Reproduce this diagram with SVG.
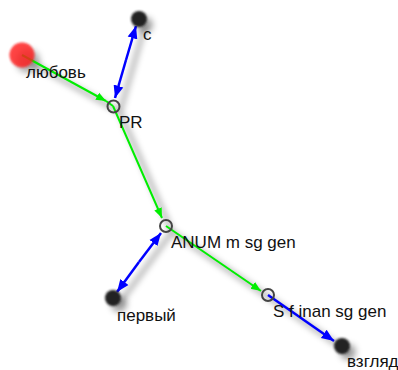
<svg xmlns="http://www.w3.org/2000/svg" width="398" height="370" viewBox="0 0 398 370">
<defs>
<filter id="sh" x="-50%" y="-50%" width="200%" height="200%"><feGaussianBlur stdDeviation="3"/></filter>
<filter id="soft" x="-30%" y="-30%" width="160%" height="160%"><feGaussianBlur stdDeviation="0.8"/></filter>
<marker id="ag" viewBox="0 0 10 10" refX="10" refY="5" markerWidth="5" markerHeight="5" orient="auto"><path d="M0,1 L10,5 L0,9 z" fill="#00ee00"/></marker>
<marker id="ab" viewBox="0 0 10 10" refX="10" refY="5" markerWidth="5" markerHeight="5" orient="auto"><path d="M0,1 L10,5 L0,9 z" fill="#0000ff"/></marker>
</defs>
<style>
.lbl{font-family:"Liberation Sans",Arial,sans-serif;font-size:17px;fill:#111}
.g{stroke:#00ee00;stroke-width:2;fill:none}
.b{stroke:#0000ff;stroke-width:2.5;fill:none}
.sh{stroke:#000;stroke-opacity:0.35;stroke-width:4;fill:none;filter:url(#sh)}
.ring{fill:none;stroke:#444;stroke-width:2}
.dot{fill:#222}
</style>
<g id="shadows">
<path class="sh" d="M28,61 L120,112 M145,25 L120,112 L172,232 L119,304 M172,232 L274,301 L348,352"/>
<circle cx="28" cy="61" r="12" fill="#000" fill-opacity="0.3" filter="url(#sh)"/>
<circle cx="145" cy="25" r="8" fill="#000" fill-opacity="0.35" filter="url(#sh)"/>
<circle cx="119" cy="304" r="8" fill="#000" fill-opacity="0.35" filter="url(#sh)"/>
<circle cx="348" cy="352" r="8" fill="#000" fill-opacity="0.35" filter="url(#sh)"/>
</g>
<g id="connectors">
<line class="g" x1="22" y1="55" x2="106" y2="101" marker-end="url(#ag)"/>
<line class="g" x1="106" y1="101" x2="113" y2="106"/>
<line class="b" x1="126" y1="60" x2="136" y2="26" marker-end="url(#ab)"/>
<line class="b" x1="126" y1="60" x2="115" y2="98" marker-end="url(#ab)"/>
<line class="g" x1="113" y1="106" x2="162" y2="218" marker-end="url(#ag)"/>
<line class="b" x1="139" y1="262" x2="161" y2="233" marker-end="url(#ab)"/>
<line class="b" x1="139" y1="262" x2="117" y2="292" marker-end="url(#ab)"/>
<line class="g" x1="166" y1="226" x2="261" y2="291" marker-end="url(#ag)"/>
<line class="b" x1="268" y1="295" x2="334" y2="341" marker-end="url(#ab)"/>
</g>
<g id="n-lyubov"><circle cx="22" cy="55" r="12.5" fill="#ff1a1a" opacity="0.82" filter="url(#soft)"/><text class="lbl" x="26" y="78">любовь</text></g>
<g id="n-s"><circle class="dot" cx="139" cy="19" r="8" filter="url(#soft)"/><text class="lbl" x="143" y="40">с</text></g>
<g id="n-pr"><circle class="ring" cx="113.5" cy="106.5" r="6"/><text class="lbl" x="119" y="128">PR</text></g>
<g id="n-anum"><circle class="ring" cx="166" cy="226" r="6"/><text class="lbl" x="171" y="248">ANUM m sg gen</text></g>
<g id="n-pervyy"><circle class="dot" cx="113" cy="298" r="8" filter="url(#soft)"/><text class="lbl" x="117" y="321">первый</text></g>
<g id="n-sf"><circle class="ring" cx="268" cy="295" r="6"/><text class="lbl" x="273" y="317">S f inan sg gen</text></g>
<g id="n-vzglyad"><circle class="dot" cx="342" cy="346" r="8" filter="url(#soft)"/><text class="lbl" x="347" y="367">взгляд</text></g>
</svg>
